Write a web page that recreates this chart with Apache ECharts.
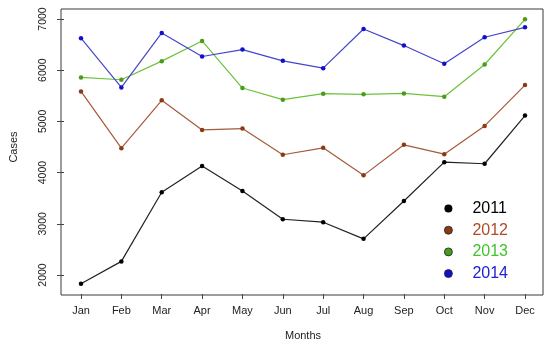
<!DOCTYPE html>
<html>
<head>
<meta charset="utf-8">
<script src="https://cdn.jsdelivr.net/npm/echarts@6/dist/echarts.min.js"></script>
<style>html,body{margin:0;padding:0;background:#fff}#c{width:550px;height:346px}</style>
</head>
<body>
<div id="c"></div>
<script>
var months = ['Jan','Feb','Mar','Apr','May','Jun','Jul','Aug','Sep','Oct','Nov','Dec'];
var yTicks = [2000, 3000, 4000, 5000, 6000, 7000];
var seriesNames = ['2011','2012','2013','2014'];
var cases2011 = [1831, 2266, 3615, 4127, 3640, 3089, 3031, 2706, 3446, 4204, 4173, 5113];
var cases2012 = [5586, 4477, 5411, 4834, 4860, 4348, 4484, 3946, 4543, 4360, 4912, 5710];
var cases2013 = [5858, 5813, 6177, 6572, 5652, 5424, 5541, 5528, 5547, 5482, 6111, 6994];
var cases2014 = [6625, 5664, 6728, 6267, 6403, 6183, 6040, 6805, 6481, 6125, 6644, 6838];

var lineColors = ['#222222', '#a65a3a', '#6cc23c', '#4545cc'];
var markColors = ['#000000', '#8a3a18', '#4a9a1e', '#1010cc'];
var textColors = ['#000000', '#b04a2a', '#44c030', '#2020d8'];
var allData = [cases2011, cases2012, cases2013, cases2014];

var chart = echarts.init(document.getElementById('c'), null, {renderer: 'canvas'});
var font = 'Liberation Sans, Arial, sans-serif';

var series = seriesNames.map(function (n, i) {
  return {
    name: n, type: 'line', data: allData[i], xAxisIndex: 0, yAxisIndex: 0,
    clip: false, symbol: 'circle', symbolSize: 4.5,
    lineStyle: {color: lineColors[i], width: 1.2},
    itemStyle: {color: markColors[i]},
    emphasis: {disabled: true}, animation: false
  };
});

chart.setOption({
  animation: false,
  grid: [
    {left: 78, right: 25, top: 19, bottom: 70, containLabel: false},
    {left: 61, right: 7, top: 9, bottom: 51, show: true, borderColor: '#3a3a3a', borderWidth: 1, backgroundColor: 'transparent'}
  ],
  xAxis: [
    {type: 'category', data: months, boundaryGap: false, gridIndex: 0, offset: 19,
     axisLine: {show: false},
     axisTick: {show: true, length: 5, lineStyle: {color: '#444'}},
     axisLabel: {fontFamily: font, fontSize: 11, color: '#222', margin: 11, interval: 0},
     name: 'Months', nameLocation: 'middle', nameGap: 36,
     nameTextStyle: {fontFamily: font, fontSize: 11, color: '#222'},
     splitLine: {show: false}},
    {type: 'value', gridIndex: 1, show: false}
  ],
  yAxis: [
    {type: 'value', gridIndex: 0, min: yTicks[0], max: yTicks[yTicks.length - 1], interval: 1000, offset: 17,
     axisLine: {show: false},
     axisTick: {show: true, length: 7, lineStyle: {color: '#444'}},
     axisLabel: {fontFamily: font, fontSize: 10.5, color: '#222', rotate: 90, margin: 15,
                 formatter: function (v) { return String(v); }},
     name: 'Cases', nameLocation: 'middle', nameGap: 45, nameRotate: 90,
     nameTextStyle: {fontFamily: font, fontSize: 11, color: '#222'},
     splitLine: {show: false}},
    {type: 'value', gridIndex: 1, show: false}
  ],
  legend: {
    orient: 'vertical', left: 439, top: 195.5, itemGap: 5.7, itemWidth: 24, itemHeight: 8,
    icon: 'circle', selectedMode: false,
    textStyle: {fontFamily: font, fontSize: 16, lineHeight: 16, padding: [0, 0, 0, 7]},
    data: seriesNames.map(function (n, i) {
      return {name: n, itemStyle: {color: markColors[i], borderColor: '#222', borderWidth: i === 0 ? 0 : 0.8},
              textStyle: {color: textColors[i]}};
    })
  },
  series: series
});
</script>
</body>
</html>
